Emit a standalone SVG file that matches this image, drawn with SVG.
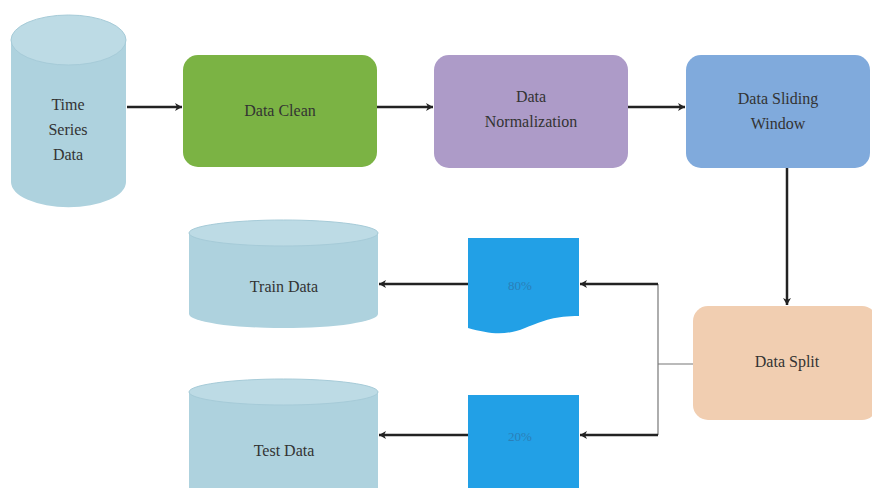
<svg xmlns="http://www.w3.org/2000/svg" width="872" height="488" viewBox="0 0 872 488">
<style>
.t{font-family:"Liberation Serif","DejaVu Serif",serif;font-size:16px;fill:#333;text-anchor:middle}
.cyl{fill:#aed2de}
.cyltop{fill:#bddbe5;stroke:#a6cbd8;stroke-width:1}
.con{stroke:#222;stroke-width:2.5;fill:none}
.thin{stroke:#777;stroke-width:1.2;fill:none}
.doc{fill:#22a0e6}
</style>
<defs>
<marker id="ah" markerWidth="10" markerHeight="10" refX="8" refY="5" orient="auto" markerUnits="userSpaceOnUse">
<path d="M1,1 L8,5 L1,9 L3,5 Z" fill="#222"/>
</marker>
</defs>
<rect width="872" height="488" fill="#fff"/>
<g id="time-series">
<path class="cyl" d="M11,40 L11,182 A57,25 0 0 0 126,182 L126,40 Z"/>
<ellipse class="cyltop" cx="68.5" cy="40" rx="57.5" ry="25"/>
<text class="t" x="68" y="110">Time</text>
<text class="t" x="68" y="135">Series</text>
<text class="t" x="68" y="160">Data</text>
</g>
<g id="data-clean">
<rect x="183" y="55" width="194" height="112" rx="15" fill="#7bb344"/>
<text class="t" x="280" y="116">Data Clean</text>
</g>
<g id="data-normalization">
<rect x="434" y="55" width="194" height="113" rx="15" fill="#ad9bc8"/>
<text class="t" x="531" y="102">Data</text>
<text class="t" x="531" y="127">Normalization</text>
</g>
<g id="data-sliding-window">
<rect x="686" y="55" width="184" height="113" rx="15" fill="#80aadc"/>
<text class="t" x="778" y="104">Data Sliding</text>
<text class="t" x="778" y="129">Window</text>
</g>
<g id="data-split">
<rect x="693" y="306" width="184" height="114" rx="15" fill="#f1ceb1"/>
<text class="t" x="787" y="367">Data Split</text>
</g>
<g id="train-data">
<path class="cyl" d="M189,233 L189,314 A94.5,14 0 0 0 378,314 L378,233 Z"/>
<ellipse class="cyltop" cx="283.5" cy="233" rx="94.5" ry="13"/>
<text class="t" x="284" y="292">Train Data</text>
</g>
<g id="test-data">
<path class="cyl" d="M189,392 L189,488 L378,488 L378,392 Z"/>
<ellipse class="cyltop" cx="283.5" cy="392" rx="94.5" ry="13"/>
<text class="t" x="284" y="456">Test Data</text>
</g>
<g id="split-80">
<path class="doc" d="M468,238 L579,238 L579,316 C555,316 545,320 525,328 C505,336 490,334 468,328 Z"/>
<text class="t" x="520" y="290" style="font-size:13px;fill:#2a7fb8">80%</text>
</g>
<g id="split-20">
<path class="doc" d="M468,395 L579,395 L579,488 L468,488 Z"/>
<text class="t" x="520" y="441" style="font-size:13px;fill:#2a7fb8">20%</text>
</g>
<g id="connectors">
<line class="con" x1="127" y1="107" x2="182" y2="107" marker-end="url(#ah)"/>
<line class="con" x1="377" y1="107" x2="433" y2="107" marker-end="url(#ah)"/>
<line class="con" x1="628" y1="107" x2="685" y2="107" marker-end="url(#ah)"/>
<line class="con" x1="787" y1="168" x2="787" y2="305" marker-end="url(#ah)"/>
<polyline class="thin" points="693,364 658,364"/>
<polyline class="thin" points="658,284 658,435"/>
<line class="con" x1="658" y1="284" x2="580" y2="284" marker-end="url(#ah)"/>
<line class="con" x1="658" y1="435" x2="580" y2="435" marker-end="url(#ah)"/>
<line class="con" x1="468" y1="284" x2="379" y2="284" marker-end="url(#ah)"/>
<line class="con" x1="468" y1="435" x2="379" y2="435" marker-end="url(#ah)"/>
</g>
</svg>
